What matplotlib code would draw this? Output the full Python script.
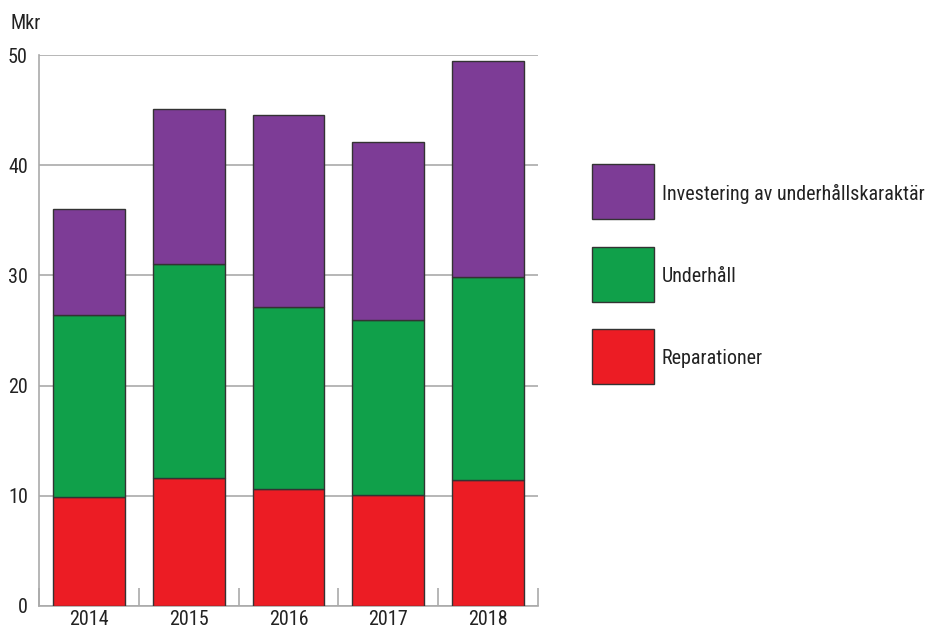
import numpy as np
import matplotlib.pyplot as plt
from matplotlib.patches import Rectangle

# Data (Mkr)
years = ["2014", "2015", "2016", "2017", "2018"]
reparationer = [9.9, 11.6, 10.6, 10.1, 11.4]
underhall = [16.5, 19.4, 16.5, 15.9, 18.5]
investering = [9.6, 14.1, 17.5, 16.1, 19.6]

labels = ["Investering av underhållskaraktär", "Underhåll", "Reparationer"]
colors = ["#7d3c96", "#10a04a", "#ec1c24"]

plt.rcParams["font.family"] = ["Roboto Condensed", "Roboto", "DejaVu Sans"]
fs = 14.5

fig = plt.figure(figsize=(9.28, 6.33), dpi=100)
ax = fig.add_axes([0.042, 0.0427, 0.5377, 0.8703])

x = np.arange(len(years))
w = 0.72
edge = dict(edgecolor="#333333", linewidth=1.0, zorder=3)
ax.bar(x, reparationer, w, color=colors[2], **edge)
bottom2 = np.array(reparationer)
ax.bar(x, underhall, w, bottom=bottom2, color=colors[1], **edge)
bottom3 = bottom2 + np.array(underhall)
ax.bar(x, investering, w, bottom=bottom3, color=colors[0], **edge)

ax.set_xlim(-0.5, len(years) - 0.5)
ax.set_ylim(0, 50)
ax.set_yticks([0, 10, 20, 30, 40, 50])
ax.set_xticks(x)
ax.set_xticklabels(years)
ax.set_xticks(np.arange(len(years) + 1) - 0.5, minor=True)
ax.tick_params(axis="x", which="major", length=0, labelsize=fs, pad=3, colors="#222222")
ax.tick_params(axis="x", which="minor", direction="in", length=13, color="#aaaaaa", width=1.2)
ax.tick_params(axis="y", length=0, labelsize=fs, pad=8, colors="#222222")
ax.grid(axis="y", color="#aaaaaa", linewidth=1.2, zorder=0)
ax.set_axisbelow(True)

for s in ["top", "right"]:
    ax.spines[s].set_visible(False)
for s in ["left", "bottom"]:
    ax.spines[s].set_color("#aaaaaa")
    ax.spines[s].set_linewidth(1.2)

fig.text(0.011, 0.963, "Mkr", fontsize=fs, color="#222222", va="center")

# Legend drawn as boxes with labels on the right
box_y = [0.654, 0.523, 0.393]
for lab, col, yb in zip(labels, colors, box_y):
    fig.patches.append(Rectangle((0.638, yb), 0.067, 0.087, transform=fig.transFigure,
                                 facecolor=col, edgecolor="#333333", linewidth=1.0))
    fig.text(0.713, yb + 0.040, lab, fontsize=fs, color="#222222", va="center")

plt.savefig("out.png", dpi=100)
